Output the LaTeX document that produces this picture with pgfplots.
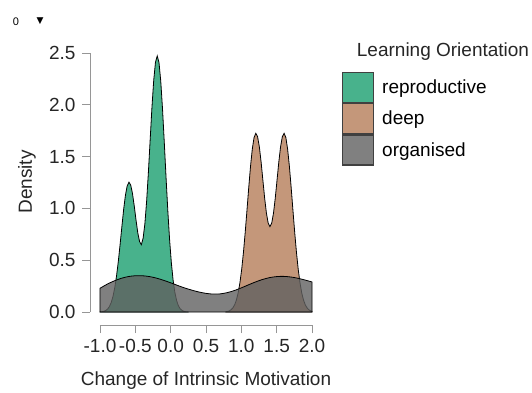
\documentclass[border=0pt]{standalone}
\usepackage{fontspec}
\setmainfont{Liberation Sans}
\newfontfamily\dejavu{DejaVu Sans}
\usepackage{pgfplots}
\pgfplotsset{compat=1.18}
\definecolor{repro}{RGB}{72,178,140}
\definecolor{deepc}{RGB}{196,151,122}
\definecolor{orga}{RGB}{96,96,96}
\definecolor{axgray}{RGB}{150,150,150}
\newcommand\fs{\fontsize{19}{23}\selectfont}
\begin{document}
\begin{tikzpicture}
\useasboundingbox (0pt,0pt) rectangle (532pt,-392pt);
\begin{axis}[
  at={(90pt,-325pt)}, anchor=south west, scale only axis,
  width=222pt, height=272pt,
  xmin=-1.1414, xmax=2.0, ymin=-0.1255, ymax=2.5,
  clip=false,
  axis lines*=left, axis line style={draw=none},
  xtick={-1,-0.5,0,0.5,1,1.5,2}, ytick={0,0.5,1,1.5,2,2.5},
  tick align=outside, major tick length=8pt,
  tick style={axgray, line width=0.8pt},
  /pgf/number format/assume math mode=true,
  /pgf/number format/fixed, /pgf/number format/fixed zerofill,
  /pgf/number format/precision=1,
  tick label style={font=\fs, black!85},
  xticklabel style={yshift=-3pt},
  yticklabel style={xshift=-3pt},
  legend style={at={(1.1351,0.9301)}, anchor=north west, draw=none, fill=none,
    inner sep=0pt, outer sep=0pt, row sep=0pt, column sep=5pt, font=\fs,
    nodes={inner sep=3pt}},
  legend cell align=left,
  legend image code/.code={\draw[#1, line width=1.2pt, draw=black!75] (0pt,-15pt) rectangle (31pt,15pt);},
]
\addplot[draw=black, line width=0.8pt, fill=repro] coordinates {
(-1.0,0.001) (-0.99,0.002) (-0.965,0.004) (-0.94,0.008) (-0.915,0.016) (-0.89,0.030)
(-0.865,0.055) (-0.84,0.094) (-0.815,0.154) (-0.79,0.239) (-0.765,0.353) (-0.74,0.493)
(-0.715,0.655) (-0.69,0.827) (-0.665,0.991) (-0.64,1.127) (-0.615,1.218) (-0.59,1.253)
(-0.565,1.225) (-0.54,1.143) (-0.515,1.022) (-0.49,0.887) (-0.465,0.764) (-0.44,0.680)
(-0.415,0.650) (-0.39,0.712) (-0.365,0.851) (-0.34,1.070) (-0.315,1.350) (-0.29,1.664)
(-0.265,1.974) (-0.24,2.235) (-0.215,2.411) (-0.19,2.472) (-0.165,2.408) (-0.14,2.227)
(-0.115,1.958) (-0.09,1.634) (-0.065,1.295) (-0.04,0.975) (-0.015,0.697) (0.01,0.473)
(0.035,0.305) (0.06,0.187) (0.085,0.109) (0.11,0.060) (0.135,0.031) (0.16,0.016)
(0.185,0.007) (0.21,0.003) (0.25,0.001)
} \closedcycle;
\addlegendentry{reproductive}
\addplot[draw=black, line width=0.8pt, fill=deepc] coordinates {
(0.78,0.003) (0.805,0.006) (0.83,0.011) (0.855,0.022) (0.88,0.040) (0.905,0.069) (0.93,0.115)
(0.955,0.184) (0.98,0.282) (1.005,0.412) (1.03,0.576) (1.055,0.770) (1.08,0.984)
(1.105,1.203) (1.13,1.406) (1.155,1.572) (1.18,1.684) (1.205,1.725) (1.23,1.692)
(1.255,1.594) (1.28,1.446) (1.305,1.272) (1.33,1.099) (1.355,0.954) (1.38,0.858)
(1.405,0.824) (1.43,0.858) (1.455,0.954) (1.48,1.099) (1.505,1.272) (1.53,1.446)
(1.555,1.594) (1.58,1.692) (1.605,1.725) (1.63,1.684) (1.655,1.572) (1.68,1.406)
(1.705,1.203) (1.73,0.984) (1.755,0.770) (1.78,0.576) (1.805,0.412) (1.83,0.282)
(1.855,0.184) (1.88,0.115) (1.905,0.069) (1.93,0.040) (1.955,0.022) (1.98,0.011) (2.0,0.007)
} \closedcycle;
\addlegendentry{deep}
\addplot[draw=black, line width=0.8pt, fill=orga, fill opacity=0.8, smooth] coordinates {
(-1.0,0.229) (-0.9,0.268) (-0.8,0.300) (-0.7,0.325) (-0.6,0.342) (-0.5,0.350)
(-0.4,0.350) (-0.3,0.342) (-0.2,0.327) (-0.1,0.306) (0.0,0.282) (0.1,0.256)
(0.2,0.232) (0.3,0.211) (0.4,0.193) (0.5,0.180) (0.6,0.173) (0.7,0.175)
(0.8,0.187) (0.9,0.207) (1.0,0.233) (1.1,0.262) (1.2,0.290) (1.3,0.314)
(1.4,0.332) (1.5,0.342) (1.6,0.344) (1.7,0.338) (1.8,0.326) (1.9,0.309) (2.0,0.290)
} \closedcycle;
\addlegendentry{organised}
\draw[axgray, line width=0.8pt] (axis cs:-1,-0.1255) -- (axis cs:2,-0.1255);
\draw[axgray, line width=0.8pt] (axis cs:-1.1414,0) -- (axis cs:-1.1414,2.5);
\end{axis}
\node[font=\fs, black!85] at (206pt,-381pt) {Change of Intrinsic Motivation};
\node[font=\fs, black!85, rotate=90] at (27pt,-182pt) {Density};
\node[font=\fs, black!85] at (443pt,-52pt) {Learning Orientation};
\node[font=\fontsize{11}{13}\selectfont] at (16pt,-21.5pt) {0};
\node[font=\dejavu\fontsize{9}{10}\selectfont] at (40pt,-21.5pt) {▼};
\end{tikzpicture}
\end{document}
